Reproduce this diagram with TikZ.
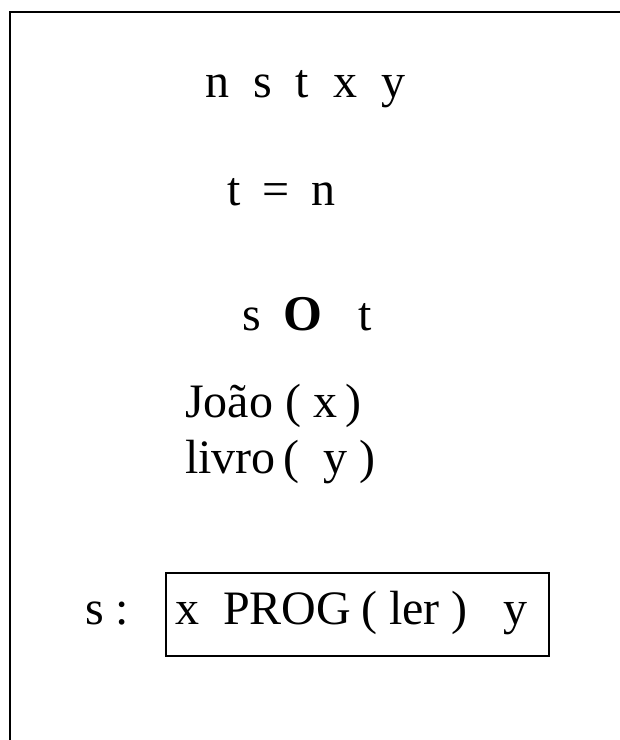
\documentclass[tikz,border=0pt]{standalone}
\usepackage{fontspec}
\setmainfont{Liberation Serif}
\begin{document}
\begin{tikzpicture}[x=1pt,y=-1pt,
  txt/.style={anchor=base west,inner sep=0pt,font=\fontsize{48}{56}\selectfont},
  frameline/.style={line width=2.5pt,line cap=rect}]
\useasboundingbox (0,0) rectangle (620,740);
\coordinate (fbl) at (10,745);
\coordinate (ftl) at (10,12);
\coordinate (ftr) at (625,12);
\draw[frameline] (fbl) -- (ftl) -- (ftr);
\node[txt] (ref) at (205,97) {n\hspace{24pt}s\hspace{24pt}t\hspace{24pt}x\hspace{24pt}y};
\node[txt] (eq) at (227,205) {t\hspace{22pt}=\hspace{22pt}n};
\node[txt] (s1) at (242,330) {s};
\node[txt,font=\fontsize{50}{56}\selectfont\bfseries] (ov) at (283,330) {O};
\node[txt] (t1) at (358,330) {t};
\node[txt] (joao) at (185,417) {João\hspace{12pt}(\hspace{12pt}x\hspace{8pt})};
\node[txt] (livro) at (185,473) {livro\hspace{8pt}(\hspace{24pt}y\hspace{12pt})};
\node[txt] (slab) at (85,624) {s\hspace{12pt}:};
\node[txt] (cond) at (175,624) {x\hspace{24pt}PROG\hspace{10pt}(\hspace{12pt}ler\hspace{12pt})\hspace{36pt}y};
\draw[line width=2pt] (166,573) rectangle (549,656);
\end{tikzpicture}
\end{document}
